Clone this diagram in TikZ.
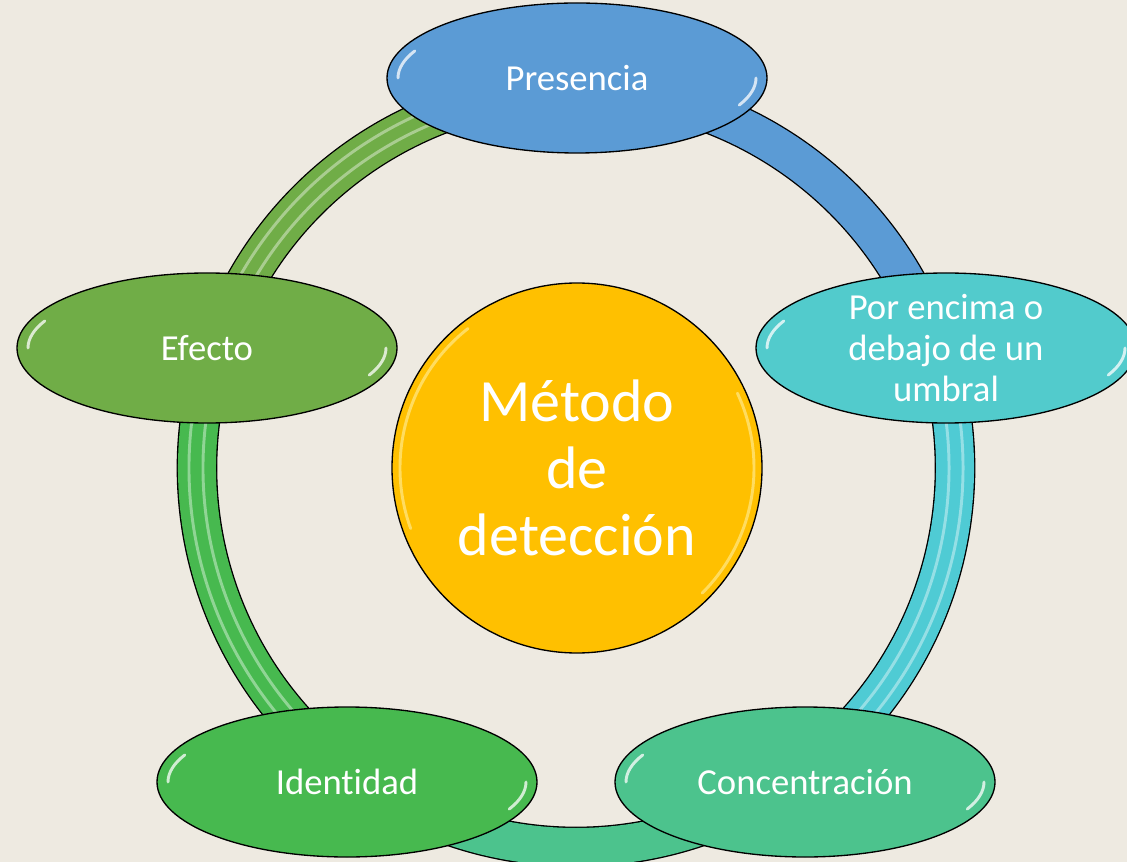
\documentclass[tikz,border=0pt]{standalone}
\usepackage{fontspec}
\setmainfont{Carlito}[Ligatures=NoCommon]
\usetikzlibrary{shapes.geometric}

\definecolor{paper}{HTML}{EEEAE1}
\definecolor{cPres}{HTML}{5B9BD5}
\definecolor{cUmbral}{HTML}{52CBCC}
\definecolor{cRingCyan}{HTML}{4FCBD4}
\definecolor{cConc}{HTML}{4CC38D}
\definecolor{cIdent}{HTML}{47B94F}
\definecolor{cEfec}{HTML}{70AD47}
\definecolor{cHub}{HTML}{FFC000}
\definecolor{cHubGlow}{HTML}{FFE680}

\tikzset{every picture/.style={line width=0.75pt}}
\tikzset{
  bubble/.style={ellipse, draw=black, line width=1pt, minimum width=285pt, minimum height=112.5pt, inner sep=0pt, text=white, align=center, font=\fontsize{27.5}{30}\selectfont},
  bubbletext/.style={text=white, align=center, inner sep=0pt, font=\fontsize{27.5}{30.4}\selectfont},
  hub/.style={circle, draw=black, line width=1pt, fill=cHub, minimum size=277.5pt, inner sep=0pt, text=white, align=center, font=\fontsize{45}{50}\selectfont},
  ringseg/.style={draw=black, line width=1pt, double=#1, double distance=28.5pt},
  tubeline/.style={draw=white, opacity=0.4, line width=2.2pt},
  gloss/.style={draw=white, opacity=0.75, line width=2.2pt, line cap=round},
}

\begin{document}
\begin{tikzpicture}[x=0.75pt,y=0.75pt,yscale=-1,xscale=1]
\useasboundingbox (0,0) rectangle (1127,862);
%Shape: Rectangle (paper)
\fill[paper] (0,0) rectangle (1127,862);

\coordinate (ring) at (576,468);

%Shape: Ring segments
\draw[ringseg=cPres] (ring) ++(-90:379) arc[start angle=-90, end angle=-18, radius=379];
\draw[ringseg=cRingCyan] (ring) ++(-18:379) arc[start angle=-18, end angle=54, radius=379];
\draw[ringseg=cConc] (ring) ++(54:379) arc[start angle=54, end angle=126, radius=379];
\draw[ringseg=cIdent] (ring) ++(126:379) arc[start angle=126, end angle=198, radius=379];
\draw[ringseg=cEfec] (ring) ++(198:379) arc[start angle=198, end angle=270, radius=379];
% tube stripes
\foreach \a/\b in {-18/54, 126/198, 198/270}
  \foreach \r in {373,387}
    \draw[tubeline] (ring) ++(\a:\r) arc[start angle=\a, end angle=\b, radius=\r];

%Shape: Circle
\node[hub] (hub) at (577,468) {Método\\de\\detección};
\draw[gloss, draw=cHubGlow] (hub.center) ++(160:177) arc[start angle=160, end angle=232, radius=177];
\draw[gloss, draw=cHubGlow] (hub.center) ++(-25:177) arc[start angle=-25, end angle=45, radius=177];

%Shape: Ellipses
\node[bubble, fill=cPres] (pres) at (577,78) {Presencia};
\node[bubble, fill=cUmbral, label={[bubbletext]center:{Por encima o\\debajo de un\\umbral}}] (umbral) at (946,348) {};
\node[bubble, fill=cConc] (conc) at (805,782) {Concentración};
\node[bubble, fill=cIdent] (ident) at (347,782) {Identidad};
\node[bubble, fill=cEfec] (efec) at (207,348) {Efecto};

% glossy ends
\foreach \n in {pres,umbral,conc,ident,efec} {
  \draw[gloss] (\n.center) ++(180:179 and 64) arc[start angle=180, end angle=205, x radius=179, y radius=64];
  \draw[gloss] (\n.center) ++(0:179 and 64) arc[start angle=0, end angle=25, x radius=179, y radius=64];
}

\end{tikzpicture}
\end{document}
